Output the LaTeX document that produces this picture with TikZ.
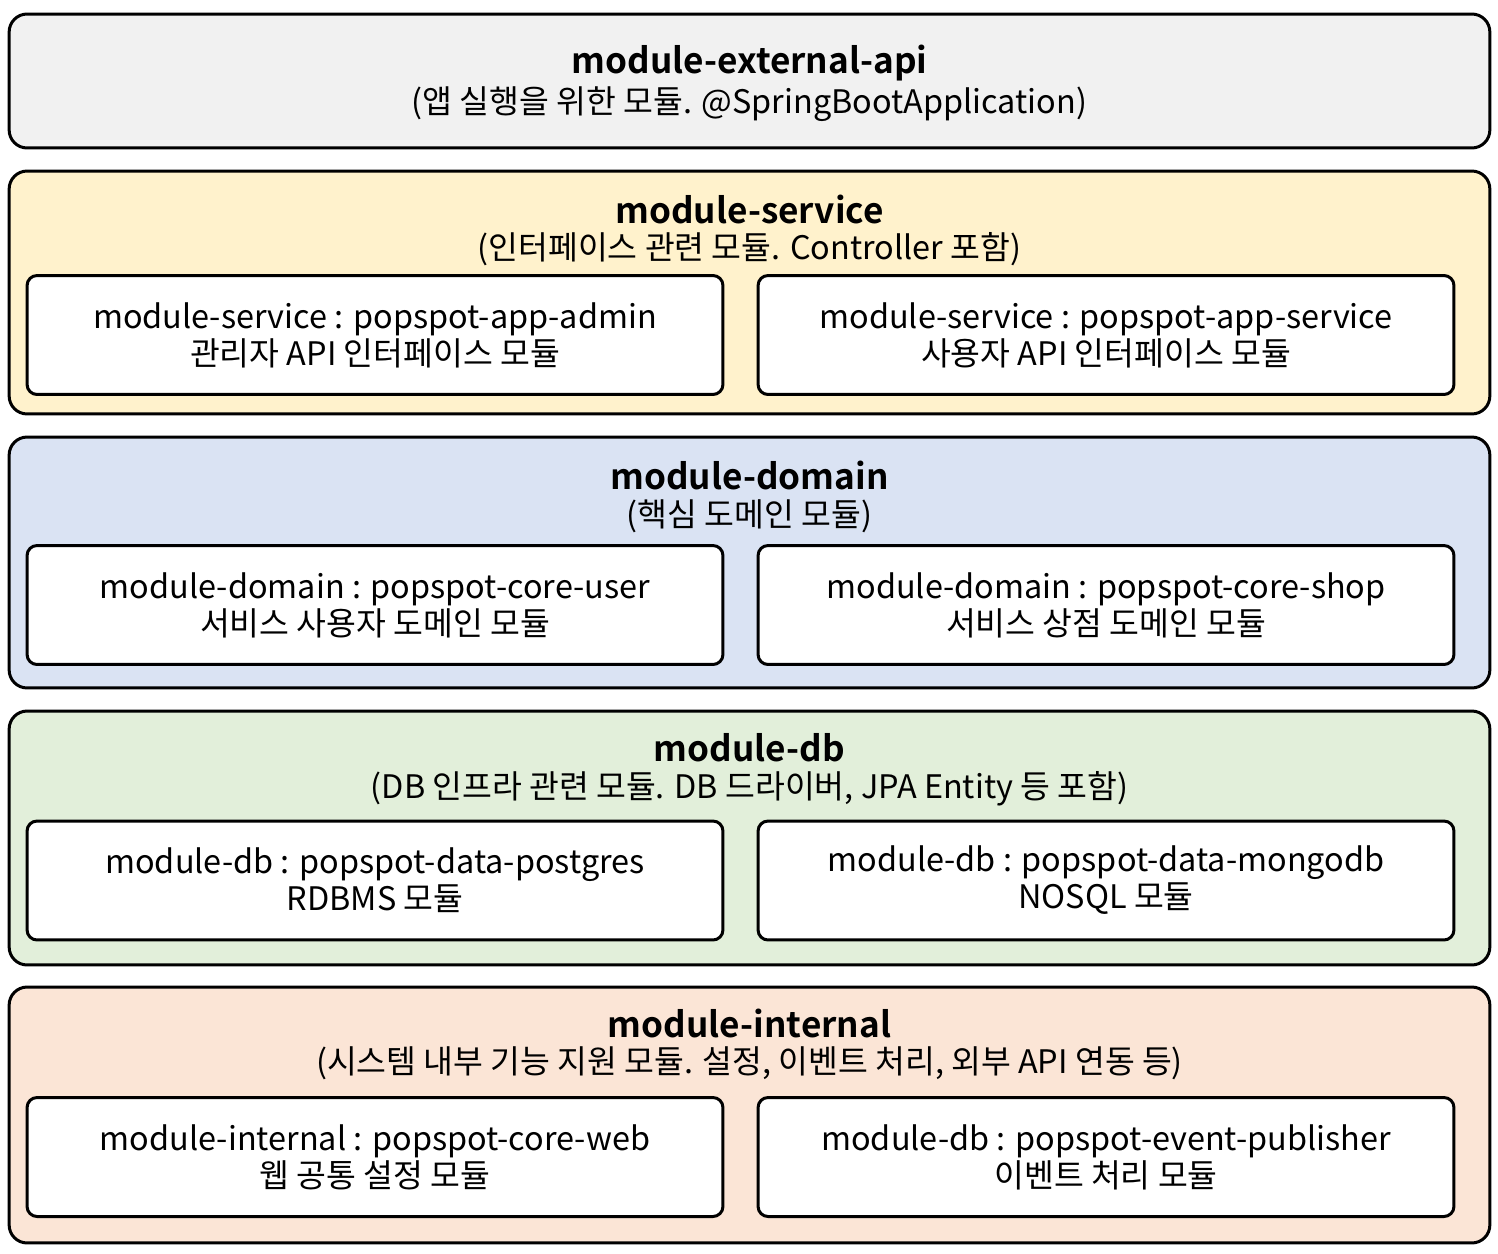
\documentclass[tikz,border=0pt]{standalone}
\usepackage{fontspec}
\setmainfont{Noto Sans CJK KR}[BoldFont={Noto Sans CJK KR Bold}]
\definecolor{apigray}{HTML}{F1F1F1}
\definecolor{svcyellow}{HTML}{FFF2CC}
\definecolor{domblue}{HTML}{DAE3F3}
\definecolor{dbgreen}{HTML}{E2EFDA}
\definecolor{intpeach}{HTML}{FBE5D6}
\begin{document}
\begin{tikzpicture}[x=0.02cm,y=-0.02cm,
  layer/.style={draw, line width=0.06cm, rounded corners=0.36cm, minimum width=29.62cm, inner sep=0, outer sep=0},
  sub/.style={draw, fill=white, line width=0.06cm, rounded corners=0.2cm, minimum width=13.92cm, minimum height=2.38cm, align=center, inner sep=0, font=\fontsize{18.45}{21}\selectfont},
  title/.style={font=\fontsize{20}{23}\selectfont\bfseries, inner sep=0},
  note/.style={font=\fontsize{18.45}{21}\selectfont, inner sep=0}]
\useasboundingbox (0,0) rectangle (1498,1254);
% layers
\node[layer, fill=apigray, minimum height=2.68cm] (api) at (749.5,81) {};
\node[layer, fill=svcyellow, minimum height=4.86cm] (service) at (749.5,292.5) {};
\node[layer, fill=domblue, minimum height=5.02cm] (domain) at (749.5,562.5) {};
\node[layer, fill=dbgreen, minimum height=5.08cm] (db) at (749.5,838) {};
\node[layer, fill=intpeach, minimum height=5.12cm] (internal) at (749.5,1115) {};
% layer headings
\node[title] (api-title) at (749.5,63.5) {module-external-api};
\node[note] (api-note) at (749.5,104.5) {(앱 실행을 위한 모듈. @SpringBootApplication)};
\node[title] (service-title) at (749.5,209.5) {module-service};
\node[note] (service-note) at (749.5,249.5) {(인터페이스 관련 모듈. Controller 포함)};
\node[title] (domain-title) at (749.5,475.5) {module-domain};
\node[note] (domain-note) at (749.5,516.5) {(핵심 도메인 모듈)};
\node[title] (db-title) at (749.5,747.5) {module-db};
\node[note] (db-note) at (749.5,788.5) {(DB 인프라 관련 모듈. DB 드라이버, JPA Entity 등 포함)};
\node[title] (internal-title) at (749.5,1023.5) {module-internal};
\node[note] (internal-note) at (749.5,1063.5) {(시스템 내부 기능 지원 모듈. 설정, 이벤트 처리, 외부 API 연동 등)};
% modules
\node[sub] (admin) at (375,335) {module-service : popspot-app-admin\\관리자 API 인터페이스 모듈};
\node[sub] (appsvc) at (1106,335) {module-service : popspot-app-service\\사용자 API 인터페이스 모듈};
\node[sub] (user) at (375,605) {module-domain : popspot-core-user\\서비스 사용자 도메인 모듈};
\node[sub] (shop) at (1106,605) {module-domain : popspot-core-shop\\서비스 상점 도메인 모듈};
\node[sub] (postgres) at (375,880.5) {module-db : popspot-data-postgres\\RDBMS 모듈};
\node[sub] (mongodb) at (1106,880.5) {module-db : popspot-data-mongodb\\NOSQL 모듈};
\node[sub] (web) at (375,1157) {module-internal : popspot-core-web\\웹 공통 설정 모듈};
\node[sub] (publisher) at (1106,1157) {module-db : popspot-event-publisher\\이벤트 처리 모듈};
\end{tikzpicture}
\end{document}
